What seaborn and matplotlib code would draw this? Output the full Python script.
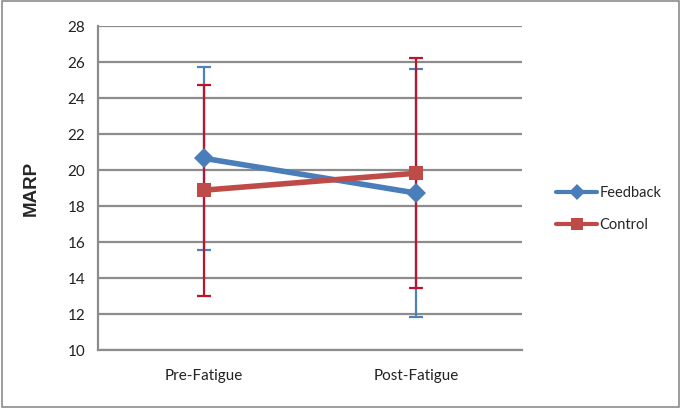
import matplotlib

matplotlib.use("Agg")
import matplotlib.pyplot as plt
import pandas as pd
import seaborn as sns
from matplotlib.patches import Rectangle

phases = ["Pre-Fatigue", "Post-Fatigue"]
feedback_mean = [20.65, 18.72]
feedback_sd = [5.1, 6.9]
control_mean = [18.88, 19.82]
control_sd = [5.86, 6.4]
y_ticks = [10, 12, 14, 16, 18, 20, 22, 24, 26, 28]

LINE_COLORS = {"Feedback": "#4a7ebb", "Control": "#be4b48"}
ERR_COLORS = {"Feedback": "#4f81bd", "Control": "#c0142c"}
MARKERS = {"Feedback": "D", "Control": "s"}
GRID = "#8c8c8c"


def build_frame() -> pd.DataFrame:
    rows = []
    for group, means, sds in [
        ("Feedback", feedback_mean, feedback_sd),
        ("Control", control_mean, control_sd),
    ]:
        for i, phase in enumerate(phases):
            rows.append({"group": group, "pos": i, "phase": phase, "mean": means[i], "sd": sds[i]})
    return pd.DataFrame(rows)


def main() -> None:
    df = build_frame()
    sns.set_theme(style="white")
    plt.rcParams["font.family"] = ["Lato", "DejaVu Sans"]

    fig = plt.figure(figsize=(6.81, 4.08), dpi=100)
    ax = fig.add_axes([98 / 681, 58 / 408, 424 / 681, 324 / 408])

    # error bars first so the lines sit on top
    for group in ["Feedback", "Control"]:
        sub = df[df["group"] == group]
        ax.errorbar(
            sub["pos"],
            sub["mean"],
            yerr=sub["sd"],
            fmt="none",
            ecolor=ERR_COLORS[group],
            elinewidth=1.6,
            capsize=5,
            capthick=1.6,
            zorder=3,
        )

    sns.lineplot(
        data=df,
        x="pos",
        y="mean",
        hue="group",
        style="group",
        markers=MARKERS,
        dashes=False,
        palette=LINE_COLORS,
        linewidth=4,
        markersize=10,
        markeredgewidth=0,
        ax=ax,
        zorder=4,
    )

    ax.set_xlim(-0.5, 1.5)
    ax.set_ylim(10, 28)
    ax.set_yticks(y_ticks)
    ax.set_xticks([0, 1])
    ax.set_xticklabels(phases)
    ax.set_xticks([-0.5, 0.5, 1.5], minor=True)
    ax.tick_params(axis="x", which="major", length=0, pad=14, labelsize=11, colors="#222222")
    ax.tick_params(axis="x", which="minor", length=5, width=1.5, color=GRID, direction="out")
    ax.tick_params(axis="y", length=6, width=1.5, color=GRID, direction="out", labelsize=11,
                   labelcolor="#222222", pad=3)
    ax.yaxis.grid(True, color=GRID, linewidth=1.6)
    ax.set_axisbelow(True)
    for side in ["top", "right"]:
        ax.spines[side].set_visible(False)
    for side in ["left", "bottom"]:
        ax.spines[side].set_color(GRID)
        ax.spines[side].set_linewidth(1.6)

    ax.set_xlabel("")
    ax.set_ylabel("MARP", fontsize=13.5, fontweight="bold", family="Liberation Sans", labelpad=20)

    handles, labels = ax.get_legend_handles_labels()
    leg = ax.legend(
        handles,
        labels,
        loc="center left",
        bbox_to_anchor=(1.05, 0.435),
        frameon=False,
        fontsize=10.5,
        handlelength=2.8,
        handletextpad=0.15,
        labelspacing=1.25,
        markerscale=0.8,
    )
    for line in leg.get_lines():
        line.set_linewidth(3)

    fig.patches.append(
        Rectangle((0.003, 0.003), 0.994, 0.994, transform=fig.transFigure,
                  fill=False, edgecolor="#8c8c8c", linewidth=1.2)
    )
    fig.savefig("out.png", dpi=100)
    plt.close(fig)


if __name__ == "__main__":
    main()
